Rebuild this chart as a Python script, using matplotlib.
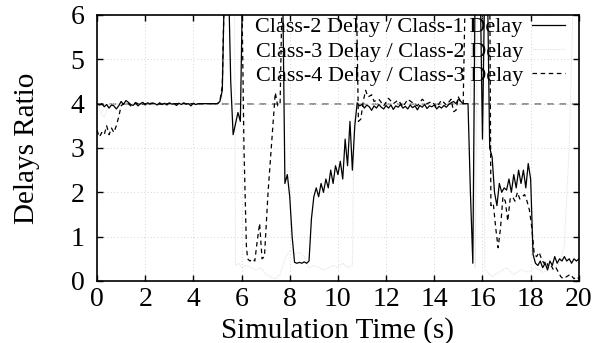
import matplotlib
matplotlib.use("Agg")
import matplotlib.pyplot as plt

plt.rcParams['font.family'] = ['Liberation Serif', 'DejaVu Serif']

# Class-2 Delay / Class-1 Delay (solid)
t_c21 = [0.0, 0.1, 0.2, 0.3, 0.4, 0.5, 0.6, 0.7, 0.8, 0.9, 1.0, 1.1, 1.2, 1.3, 1.4, 1.5,
         1.6, 1.7, 1.8, 1.9, 2.0, 2.1, 2.2, 2.3, 2.4, 2.5, 2.6, 2.7, 2.8, 2.9, 3.0, 3.1,
         3.2, 3.3, 3.4, 3.5, 3.6, 3.7, 3.8, 3.9, 4.0, 4.1, 4.2, 4.3, 4.4, 4.5, 4.6, 4.7,
         4.8, 4.9, 5.0, 5.1, 5.2, 5.3, 5.45, 5.55, 5.65, 5.75, 5.85, 5.95, 6.05, 7.7,
         7.8, 7.9, 8.0, 8.1, 8.2, 8.3, 8.4, 8.5, 8.6, 8.7, 8.8, 8.9, 9.0, 9.1, 9.2, 9.3,
         9.4, 9.5, 9.6, 9.7, 9.8, 9.9, 10.0, 10.1, 10.2, 10.3, 10.4, 10.5, 10.6, 10.7,
         10.8, 10.9, 11.0, 11.1, 11.2, 11.3, 11.4, 11.5, 11.6, 11.7, 11.8, 11.9, 12.0,
         12.1, 12.2, 12.3, 12.4, 12.5, 12.6, 12.7, 12.8, 12.9, 13.0, 13.1, 13.2, 13.3,
         13.4, 13.5, 13.6, 13.7, 13.8, 13.9, 14.0, 14.1, 14.2, 14.3, 14.4, 14.5, 14.6,
         14.7, 14.8, 14.9, 15.0, 15.1, 15.2, 15.3, 15.4, 15.5, 15.6, 15.7, 15.9, 16.0,
         16.1, 16.2, 16.3, 16.4, 16.5, 16.6, 16.7, 16.8, 16.9, 17.0, 17.1, 17.2, 17.3,
         17.4, 17.5, 17.6, 17.7, 17.8, 17.9, 18.0, 18.1, 18.2, 18.3, 18.4, 18.5, 18.6,
         18.7, 18.8, 18.9, 19.0, 19.1, 19.2, 19.3, 19.4, 19.5, 19.6, 19.7, 19.8, 19.9, 20.0]
v_c21 = [4.0, 3.97, 4.0, 3.93, 3.98, 3.9, 3.97, 3.95, 3.88, 3.95, 4.05, 3.98, 4.07, 4.03,
         3.98, 3.96, 4.02, 3.95, 4.0, 4.03, 3.97, 4.02, 3.99, 4.01, 4.0, 3.97, 4.02, 3.98,
         4.01, 3.97, 4.02, 3.99, 4.0, 3.96, 4.01, 3.98, 4.02, 3.99, 4.0, 3.95, 4.01, 3.98,
         4.0, 4.0, 4.0, 4.0, 4.0, 4.0, 4.0, 4.0, 4.0, 4.05, 4.3, 7.0, 7.0, 4.5, 3.3, 3.55,
         3.8, 3.6, 7.0, 7.0,
         2.2, 2.4, 1.9, 1.0, 0.42, 0.4, 0.42, 0.4, 0.43, 0.4, 0.45, 1.4, 1.9, 2.1, 1.9,
         2.2, 2.0, 2.3, 2.1, 2.5, 2.2, 2.6, 2.4, 2.7, 2.3, 3.2, 2.6, 3.6, 2.5, 3.5,
         4.02, 3.95, 3.98, 3.9, 3.97, 3.93, 3.85, 3.95, 3.9, 3.98, 3.92, 3.88, 3.96,
         3.9, 3.97, 3.87, 3.95, 3.92, 3.98, 3.9, 3.94, 3.88, 3.97, 3.91, 3.95, 3.86,
         3.96, 3.92, 3.98, 3.89, 3.95, 3.93, 3.97, 3.88, 3.94, 3.9, 3.96, 3.92, 3.98,
         4.02, 4.05, 4.0, 4.1, 4.05, 4.0, 4.0, 4.0, 2.0, 0.4, 7.0, 7.0, 3.2,
         7.0, 7.0, 3.0, 2.8, 2.0, 1.7, 2.2, 2.0, 2.1, 2.05, 2.3, 2.0, 2.4,
         2.1, 2.5, 2.2, 2.5, 2.1, 2.65, 2.3, 0.6, 0.4, 0.35, 0.45, 0.3, 0.4,
         0.25, 0.45, 0.35, 0.55, 0.4, 0.5, 0.45, 0.55, 0.45, 0.5, 0.4, 0.5, 0.45, 0.5]

# Class-3 Delay / Class-2 Delay (very light)
t_c32 = [0.0, 0.1, 0.2, 0.3, 0.4, 0.5, 0.6, 1.0, 2.0, 3.0, 4.0, 5.0, 5.2, 5.3, 5.7,
         5.75, 5.9, 6.0, 6.2, 6.4, 6.6, 6.8, 7.0, 7.2, 7.4, 7.6, 7.8, 8.0, 8.2, 8.4,
         8.6, 8.8, 9.0, 9.2, 9.4, 9.6, 9.8, 10.0, 10.2, 10.4, 10.6, 10.75, 10.85,
         12.0, 14.0, 15.5, 15.6, 15.7, 15.8, 16.0, 16.1, 16.4, 16.7, 17.0, 17.3, 17.6,
         17.9, 18.2, 18.5, 18.8, 19.0, 19.2, 19.4, 19.6, 19.8, 20.0]
v_c32 = [4.0, 3.9, 3.75, 3.7, 3.85, 3.95, 4.0, 4.0, 4.0, 4.0, 4.0, 4.0, 4.0, 7.0, 7.0,
         0.35, 0.4, 0.3, 0.35, 0.3, 0.25, 0.3, 0.15, 0.1, 0.05, 0.15, 0.5, 0.7, 0.6, 0.65,
         0.55, 0.3, 0.35, 0.3, 0.25, 0.3, 0.35, 0.3, 0.4, 0.3, 0.35, 7.0, 4.0,
         4.0, 4.0, 4.0, 7.0, 0.3, 7.0, 7.0, 0.25, 0.1, 0.2, 0.3, 0.15, 0.25,
         0.2, 0.3, 0.2, 0.25, 0.3, 0.4, 0.8, 3.0, 7.0, 7.0]

# Class-4 Delay / Class-3 Delay (dashed)
t_c43 = [0.0, 0.1, 0.2, 0.3, 0.4, 0.5, 0.6, 0.7, 0.8, 0.9, 1.0, 1.1, 1.2, 1.3, 1.4,
         1.6, 1.8, 2.0, 2.3, 2.6, 3.0, 3.4, 3.8, 4.2, 4.6, 5.0, 5.1, 5.2, 5.3, 6.0,
         6.1, 6.2, 6.25, 6.35, 6.45, 6.55, 6.65, 6.75, 6.85, 6.95, 7.1, 7.3, 7.4, 7.5,
         7.6, 7.7, 10.75, 10.85, 10.95, 11.05, 11.15, 11.25, 11.4, 11.5, 11.7, 11.9,
         12.1, 12.3, 12.5, 12.7, 12.9, 13.1, 13.3, 13.5, 13.7, 13.9, 14.1, 14.3, 14.5,
         14.7, 14.8, 14.9, 15.0, 15.1, 15.2, 15.3, 16.3, 16.35, 16.45, 16.55, 16.65,
         16.75, 16.85, 16.95, 17.05, 17.15, 17.25, 17.35, 17.45, 17.55, 17.65, 17.75,
         17.85, 17.95, 18.05, 18.15, 18.25, 18.35, 18.45, 18.55, 18.65, 18.75, 18.85,
         18.95, 19.05, 19.15, 19.25, 19.35, 19.5, 19.65, 19.8, 19.9, 20.0]
v_c43 = [3.4, 3.25, 3.35, 3.3, 3.5, 3.3, 3.45, 3.35, 3.5, 3.7, 3.95, 4.0, 4.02, 4.0, 3.95,
         4.02, 3.98, 4.0, 4.01, 3.99, 4.0, 4.0, 4.0, 4.0, 4.0, 4.0, 4.05, 4.4, 7.0, 7.0,
         3.0, 0.8, 0.5, 0.45, 0.5, 0.45, 0.9, 1.3, 0.5, 0.55, 2.0, 3.5, 4.25, 3.95,
         4.0, 7.0, 7.0, 3.6, 3.65, 4.05, 4.3, 4.15, 4.2, 4.05, 4.1, 3.95,
         4.12, 4.0, 4.08, 3.93, 4.1, 4.02, 3.95, 4.1, 4.0, 4.05, 3.92, 4.08, 3.97,
         4.1, 3.82, 3.85, 4.15, 4.05, 4.0, 7.0, 7.0, 1.7, 1.75, 1.2, 0.75,
         1.2, 1.9, 1.8, 1.35, 1.85, 1.9, 1.8, 2.0, 1.85, 1.9, 1.95,
         1.8, 1.6, 1.2, 0.6, 0.55, 0.65, 0.5, 0.4, 0.45, 0.3, 0.35,
         0.25, 0.3, 0.2, 0.1, 0.05, 0.1, 0.15, 0.05, 0.1, 0.05]

ref_level = 4.0
x_ticks = [0, 2, 4, 6, 8, 10, 12, 14, 16, 18, 20]
y_ticks = [0, 1, 2, 3, 4, 5, 6]

fig = plt.figure(figsize=(6.0, 3.43), dpi=100)
ax = fig.add_axes([0.1617, 0.1808, 0.8030, 0.7755])

ax.axhline(ref_level, color='#808080', lw=1.2, dashes=(4, 3.5), zorder=1)
ax.plot(t_c21, v_c21, color='black', lw=0.9,
        label='Class-2 Delay / Class-1 Delay', zorder=3)
ax.plot(t_c32, v_c32, color='#e2e2e2', lw=0.8, linestyle=(0, (1, 1)),
        label='Class-3 Delay / Class-2 Delay', zorder=2)
ax.plot(t_c43, v_c43, color='black', lw=0.9, dashes=(3.6, 2.9),
        label='Class-4 Delay / Class-3 Delay', zorder=3)

ax.set_xlim(0, 20)
ax.set_ylim(0, 6)
ax.set_xticks(x_ticks)
ax.set_yticks(y_ticks)
ax.grid(True, color='#c8c8c8', linestyle=(0, (1, 3)), lw=0.6)
ax.tick_params(direction='in', top=True, right=True, length=4.5, width=1.0,
               labelsize=20)
ax.tick_params(axis='x', pad=4)
ax.tick_params(axis='y', pad=9)
for s in ax.spines.values():
    s.set_linewidth(1.2)

ax.set_xlabel('Simulation Time (s)', fontsize=21, labelpad=4)
ax.set_ylabel('Delays Ratio', fontsize=21, labelpad=22)

leg = ax.legend(loc='upper right', bbox_to_anchor=(0.975, 1.0), frameon=False,
                markerfirst=False, fontsize=16, labelspacing=0.17,
                handlelength=1.5, handletextpad=0.4, borderaxespad=0.0,
                borderpad=0.08)
for txt in leg.get_texts():
    txt.set_ha('right')

fig.savefig('out.png', dpi=100)
